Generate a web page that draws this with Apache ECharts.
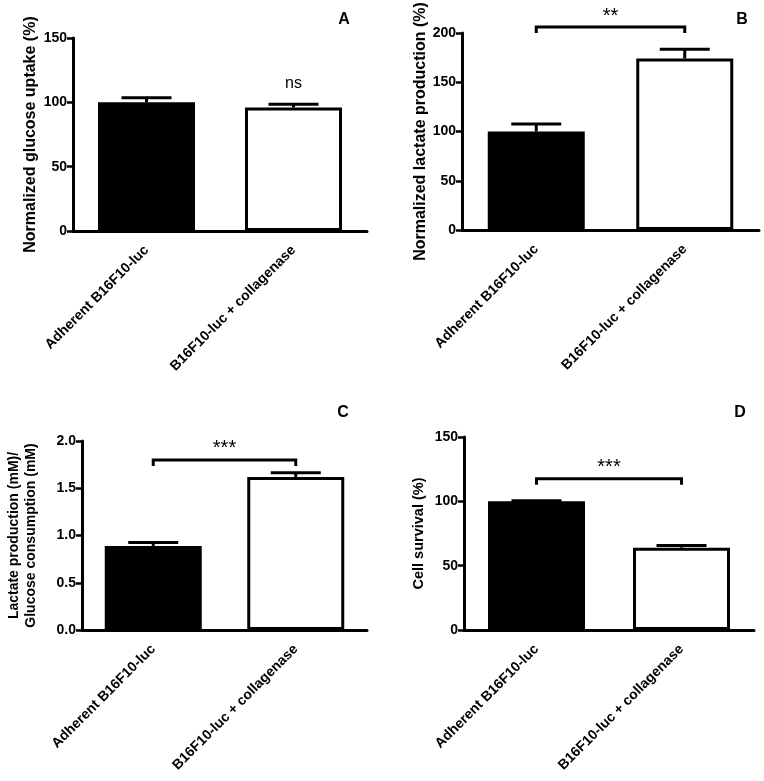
<!DOCTYPE html>
<html>
<head>
<meta charset="utf-8">
<script src="https://cdn.jsdelivr.net/npm/echarts@6/dist/echarts.min.js"></script>
<style>
html,body{margin:0;padding:0;background:#fff;}
#chart{width:764px;height:781px;}
</style>
</head>
<body>
<div id="chart"></div>
<script>
// ---- data ----
const categories = ['Adherent B16F10-luc', 'B16F10-luc + collagenase'];

const glucoseMean = [100, 96];
const glucoseErr = [3.5, 2.5];

const lactateMean = [100, 174];
const lactateErr = [7.5, 9.5];

const ratioMean = [0.89, 1.62];
const ratioErr = [0.035, 0.045];

const survivalMean = [100, 64];
const survivalErr = [0.4, 1.6];

const panelLetters = ['A', 'B', 'C', 'D'];
const yTitles = [
  'Normalized glucose uptake (%)',
  'Normalized lactate production (%)',
  'Lactate production (mM)/\nGlucose consumption (mM)',
  'Cell survival (%)'
];
const yMax = [150, 200, 2.0, 150];
const yInterval = [50, 50, 0.5, 50];

const sigA = { text: 'ns', cat: 1 };
const bracketB = { level: 206, text: '**' };
const bracketC = { level: 1.8, text: '***' };
const bracketD = { level: 117.5, text: '***' };

// ---- layout ----
const FONT = '"Liberation Sans", Arial, Helvetica, sans-serif';
const grids = [
  { left: 73, top: 38, width: 294, height: 193 },
  { left: 462, top: 33, width: 297, height: 197 },
  { left: 82, top: 441, width: 285, height: 189 },
  { left: 464, top: 437, width: 290, height: 193 }
];
const nameGaps = [34, 33, 42, 37];
const nameSizes = [16, 16, 14, 14.5];

const xAxes = grids.map((g, i) => ({
  type: 'category', gridIndex: i, data: categories,
  axisLine: { lineStyle: { color: '#000', width: 3 } },
  axisTick: { alignWithLabel: true, length: 6, lineStyle: { color: '#000', width: 2.5 } },
  axisLabel: { rotate: 45, interval: 0, margin: 17, color: '#000', fontFamily: FONT, fontWeight: 'bold', fontSize: 14 }
}));
const yAxes = grids.map((g, i) => ({
  type: 'value', gridIndex: i, min: 0, max: yMax[i], interval: yInterval[i],
  name: yTitles[i], nameLocation: 'middle', nameGap: nameGaps[i],
  nameTextStyle: { color: '#000', fontFamily: FONT, fontWeight: 'bold', fontSize: nameSizes[i], lineHeight: 17 },
  axisLine: { show: true, lineStyle: { color: '#000', width: 3 } },
  axisTick: { show: true, length: 6, lineStyle: { color: '#000', width: 2.5 } },
  splitLine: { show: false },
  axisLabel: { margin: 6, color: '#000', fontFamily: FONT, fontWeight: 'bold', fontSize: 14,
    formatter: i === 2 ? (v => v.toFixed(1)) : (v => String(v)) }
}));

const means = [glucoseMean, lactateMean, ratioMean, survivalMean];
const errs = [glucoseErr, lactateErr, ratioErr, survivalErr];

const series = [];
means.forEach((m, i) => {
  series.push({
    type: 'bar', xAxisIndex: i, yAxisIndex: i, barWidth: 97,
    data: m.map((v, k) => ({
      value: v,
      itemStyle: k === 0
        ? { color: '#000', borderColor: '#000', borderWidth: 3 }
        : { color: '#fff', borderColor: '#000', borderWidth: 3 }
    })),
    z: 2
  });
  series.push({
    type: 'custom', xAxisIndex: i, yAxisIndex: i, z: 3,
    data: m.map((v, k) => [k, v, v + errs[i][k]]),
    renderItem: function (params, api) {
      const p0 = api.coord([api.value(0), api.value(1)]);
      const p1 = api.coord([api.value(0), api.value(2)]);
      const hw = 25;
      return {
        type: 'group',
        children: [
          { type: 'line', shape: { x1: p0[0], y1: p0[1], x2: p1[0], y2: p1[1] }, style: { stroke: '#000', lineWidth: 3 } },
          { type: 'line', shape: { x1: p1[0] - hw, y1: p1[1], x2: p1[0] + hw, y2: p1[1] }, style: { stroke: '#000', lineWidth: 3 } }
        ]
      };
    }
  });
});

series.push({
  type: 'custom', xAxisIndex: 0, yAxisIndex: 0, z: 4,
  data: [[sigA.cat, glucoseMean[sigA.cat] + glucoseErr[sigA.cat]]],
  renderItem: function (params, api) {
    const p = api.coord([api.value(0), api.value(1)]);
    return { type: 'text', x: p[0], y: p[1] - 13,
      style: { text: sigA.text, fill: '#000', font: '16px ' + FONT, align: 'center', verticalAlign: 'bottom' } };
  }
});

[[1, bracketB], [2, bracketC], [3, bracketD]].forEach(([gi, b]) => {
  series.push({
    type: 'custom', xAxisIndex: gi, yAxisIndex: gi, z: 4,
    data: [[0, 1, b.level]],
    renderItem: function (params, api) {
      const a = api.coord([api.value(0), api.value(2)]);
      const c = api.coord([api.value(1), api.value(2)]);
      const y = a[1];
      return {
        type: 'group',
        children: [
          { type: 'polyline', shape: { points: [[a[0], y + 6], [a[0], y], [c[0], y], [c[0], y + 6]] },
            style: { stroke: '#000', lineWidth: 3, fill: null } },
          { type: 'text', x: (a[0] + c[0]) / 2, y: y - 1,
            style: { text: b.text, fill: '#000', font: '20px ' + FONT, align: 'center', verticalAlign: 'bottom' } }
        ]
      };
    }
  });
});

const letterPos = [[344, 20], [742, 20], [343, 413], [740, 413]];
const graphic = panelLetters.map((t, i) => ({
  type: 'text', x: letterPos[i][0], y: letterPos[i][1],
  style: { text: t, fill: '#000', font: 'bold 16px ' + FONT, align: 'center', verticalAlign: 'middle' }
}));

const chart = echarts.init(document.getElementById('chart'), null, { renderer: 'canvas' });
chart.setOption({
  backgroundColor: '#fff',
  animation: false,
  grid: grids,
  xAxis: xAxes,
  yAxis: yAxes,
  series: series,
  graphic: graphic
});
</script>
</body>
</html>
